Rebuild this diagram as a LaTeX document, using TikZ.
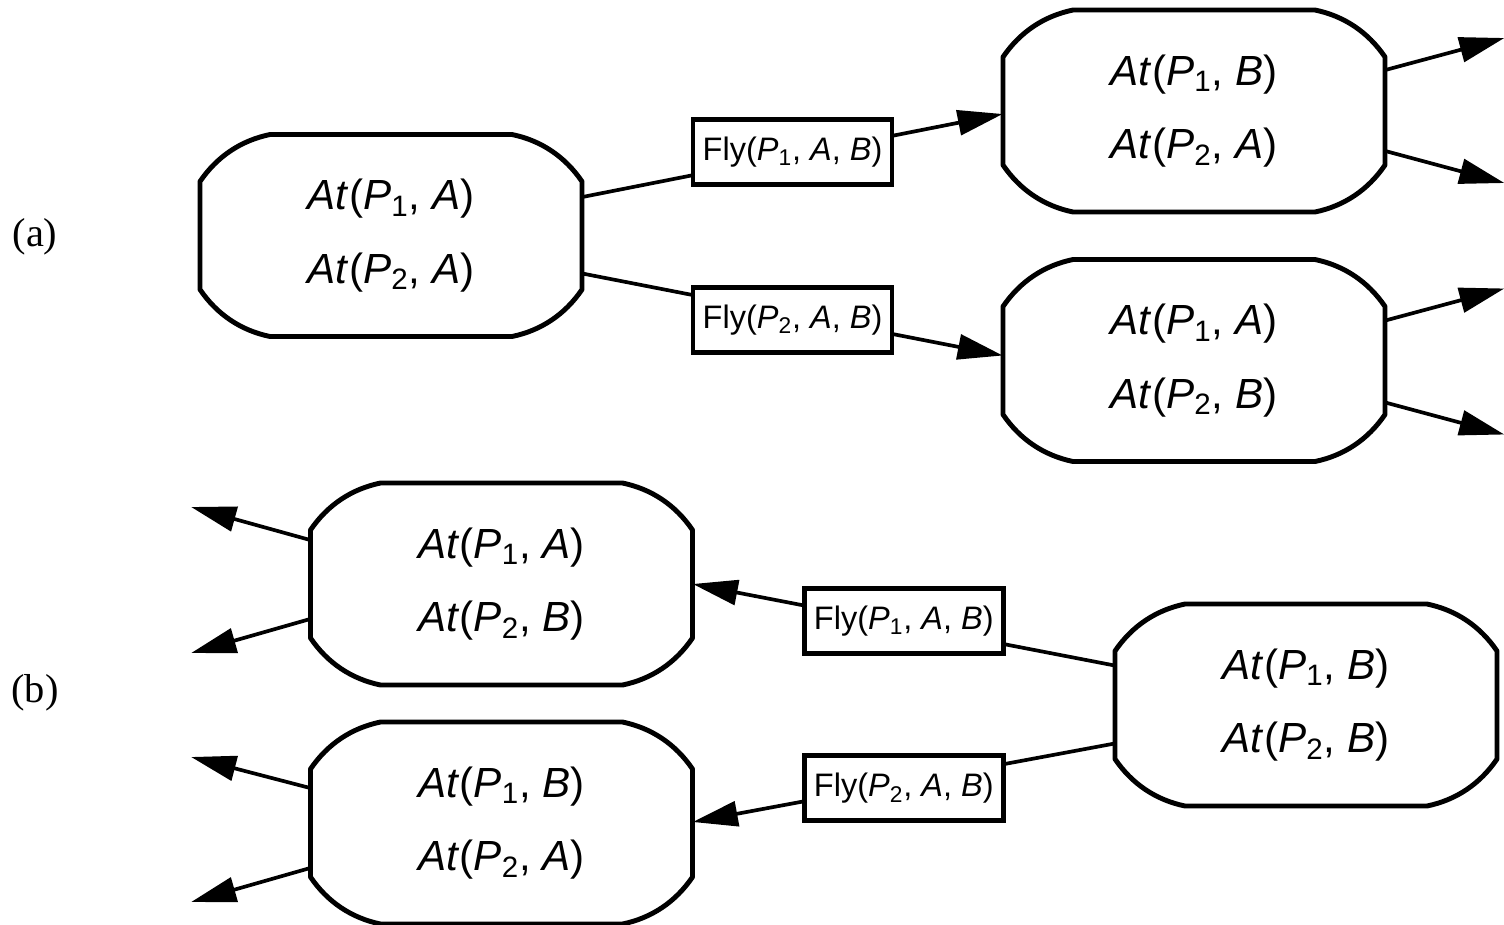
\documentclass[tikz,border=0pt]{standalone}
\usepackage{fontspec}
\setmainfont{Liberation Serif}
\setsansfont{Liberation Sans}
\usetikzlibrary{arrows.meta}
\newcommand{\at}[2]{\textit{At}(\textit{P}\textsubscript{#1}, \textit{#2})}
\newcommand{\fly}[1]{Fly(\textit{P}\textsubscript{#1}, \textit{A}, \textit{B})}
\tikzset{
    state/.style={
        minimum width=7.64cm,
        minimum height=4.06cm,
        inner sep=0pt,
        align=center,
        font=\sffamily\fontsize{24}{42}\selectfont
        },
    act/.style={
        draw,
        fill=white,
        line width=2.8pt,
        minimum width=3.98cm,
        minimum height=1.3cm,
        inner sep=0pt,
        font=\sffamily\fontsize{18.5}{20}\selectfont
        },
    outline/.style={line width=2.8pt, line join=round},
    arr/.style={line width=2.1pt, -{Triangle[length=0.9cm,width=0.5cm]}},
    tag/.style={font=\fontsize{23}{26}\selectfont}
}

\begin{document}
\begin{tikzpicture}[x=0.02cm, y=-0.02cm]
\useasboundingbox (0,0) rectangle (1504,924);

% (a)
\node[tag] (la) at (35,237) {(a)};
\node[state] (s0) at (391,235.5) {\at{1}{A}\\\at{2}{A}};
\node[state] (s1) at (1194,111) {\at{1}{B}\\\at{2}{A}};
\node[state] (s2) at (1194,360.5) {\at{1}{A}\\\at{2}{B}};

% (b)
\node[tag] (lb) at (35,693) {(b)};
\node[state] (t0) at (1306,705) {\at{1}{B}\\\at{2}{B}};
\node[state] (t1) at (501.5,584) {\at{1}{A}\\\at{2}{B}};
\node[state] (t2) at (501.5,823) {\at{1}{B}\\\at{2}{A}};

\foreach \n in {s0,s1,s2,t0,t1,t2}{
  \begin{scope}[shift={(\n.center)}]
    \draw[outline] (-191,-54) .. controls (-174,-79) and (-150,-95) .. (-121,-101)
        -- (121,-101) .. controls (150,-95) and (174,-79) .. (191,-54)
        -- (191,54) .. controls (174,79) and (150,95) .. (121,101)
        -- (-121,101) .. controls (-150,95) and (-174,79) .. (-191,54) -- cycle;
  \end{scope}
}

% actions
\draw[arr] ([yshift=0.77cm]s0.east) -- node[act, pos=0.5, yshift=0.07cm] (f1) {\fly{1}} ([yshift=-0.06cm]s1.west);
\draw[arr] ([yshift=-0.76cm]s0.east) -- node[act, pos=0.5, yshift=-0.11cm] (f2) {\fly{2}} ([yshift=0.1cm]s2.west);
\draw[arr] ([yshift=0.79cm]t0.west) -- node[act, pos=0.5, yshift=0.07cm] (g1) {\fly{1}} (t1.east);
\draw[arr] ([yshift=-0.77cm]t0.west) -- node[act, pos=0.5, yshift=-0.11cm] (g2) {\fly{2}} ([yshift=0.02cm]t2.east);

% outgoing
\draw[arr] ([yshift=0.82cm]s1.east) -- ++(119,-32);
\draw[arr] ([yshift=-0.8cm]s1.east) -- ++(119,32);
\draw[arr] ([yshift=0.8cm]s2.east) -- ++(119,-32);
\draw[arr] ([yshift=-0.84cm]s2.east) -- ++(119,32);
\draw[arr] ([yshift=0.88cm]t1.west) -- ++(-119,-33);
\draw[arr] ([yshift=-0.7cm]t1.west) -- ++(-119,34);
\draw[arr] ([yshift=0.7cm]t2.west) -- ++(-119,-31);
\draw[arr] ([yshift=-0.9cm]t2.west) -- ++(-119,34);
\end{tikzpicture}
\end{document}
